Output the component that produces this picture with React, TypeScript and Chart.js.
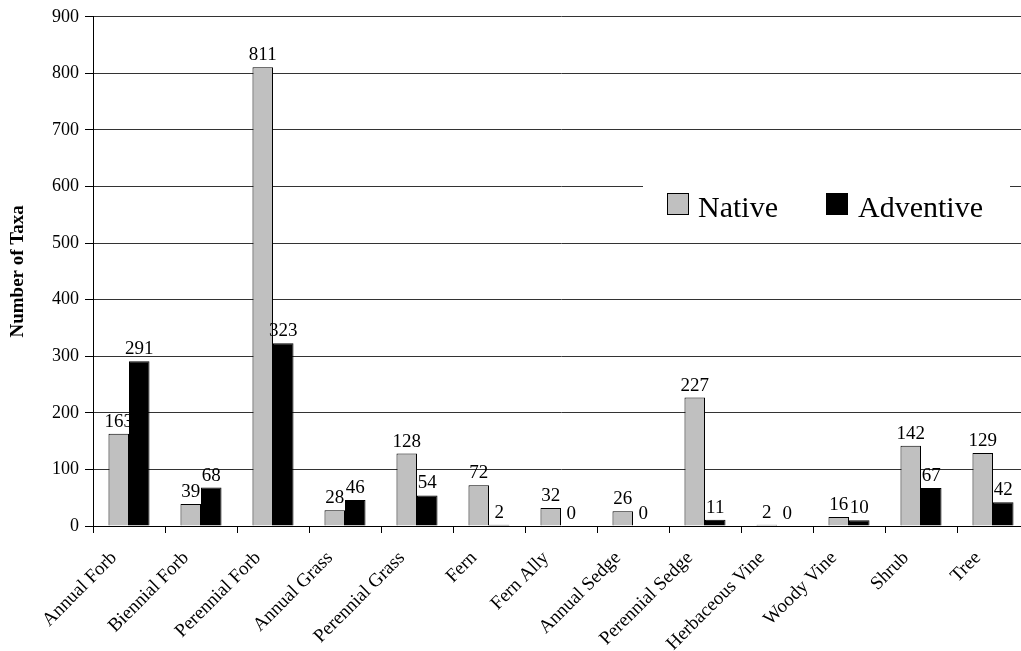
import React, { useEffect, useRef } from "react";
import { Chart, registerables } from "chart.js";

Chart.register(...registerables);

const categories = [
  "Annual Forb",
  "Biennial Forb",
  "Perennial Forb",
  "Annual Grass",
  "Perennial Grass",
  "Fern",
  "Fern Ally",
  "Annual Sedge",
  "Perennial Sedge",
  "Herbaceous Vine",
  "Woody Vine",
  "Shrub",
  "Tree",
];
const nativeValues = [163, 39, 811, 28, 128, 72, 32, 26, 227, 2, 16, 142, 129];
const adventiveValues = [291, 68, 323, 46, 54, 2, 0, 0, 11, 0, 10, 67, 42];
const seriesNames = ["Native", "Adventive"];
const yTicks = [0, 100, 200, 300, 400, 500, 600, 700, 800, 900];
const yTitle = "Number of Taxa";

const SERIF = "'Liberation Serif', 'Times New Roman', serif";
const GRAY = "#c0c0c0";

const dataLabelPlugin = {
  id: "dataLabels",
  afterDatasetsDraw(chart: any) {
    const ctx = chart.ctx;
    ctx.save();
    ctx.font = `19px ${SERIF}`;
    ctx.fillStyle = "#000";
    ctx.textAlign = "center";
    ctx.textBaseline = "alphabetic";
    chart.data.datasets.forEach((ds: any, di: number) => {
      const meta = chart.getDatasetMeta(di);
      meta.data.forEach((bar: any, i: number) => {
        ctx.fillText(String(ds.data[i]), bar.x, bar.y - 7);
      });
    });
    ctx.restore();
  },
};

const legendPlugin = {
  id: "boxLegend",
  beforeDatasetsDraw(chart: any) {
    const ctx = chart.ctx;
    ctx.save();
    ctx.fillStyle = "#fff";
    ctx.fillRect(643, 170, 367, 66);
    const items = [
      { sq: 667, tx: 698, fill: GRAY, label: seriesNames[0] },
      { sq: 826, tx: 858, fill: "#000", label: seriesNames[1] },
    ];
    ctx.font = `30px ${SERIF}`;
    ctx.textBaseline = "alphabetic";
    ctx.textAlign = "left";
    items.forEach((it) => {
      ctx.fillStyle = it.fill;
      ctx.fillRect(it.sq, 193, 22, 22);
      ctx.strokeStyle = "#000";
      ctx.lineWidth = 1;
      ctx.strokeRect(it.sq + 0.5, 193.5, 21, 21);
      ctx.fillStyle = "#000";
      ctx.fillText(it.label, it.tx, 217);
    });
    ctx.restore();
  },
};

export default function App() {
  const ref = useRef<HTMLCanvasElement | null>(null);

  useEffect(() => {
    if (!ref.current) return;
    const chart = new Chart(ref.current, {
      type: "bar",
      data: {
        labels: categories,
        datasets: [
          {
            label: seriesNames[0],
            data: nativeValues,
            backgroundColor: GRAY,
            borderColor: "#000",
            borderWidth: 1,
          },
          {
            label: seriesNames[1],
            data: adventiveValues,
            backgroundColor: "#000",
            borderColor: "#000",
            borderWidth: 1,
          },
        ],
      },
      options: {
        responsive: false,
        animation: false,
        devicePixelRatio: 1,
        layout: { padding: { top: 16, right: 11, left: 0, bottom: 0 } },
        datasets: {
          bar: { categoryPercentage: 0.57, barPercentage: 1 },
        },
        plugins: {
          legend: { display: false },
          tooltip: { enabled: false },
        },
        scales: {
          x: {
            offset: true,
            grid: {
              offset: true,
              drawOnChartArea: false,
              drawTicks: true,
              tickLength: 7,
              tickColor: "#000",
            },
            border: { display: true, color: "#000", width: 1 },
            ticks: {
              autoSkip: false,
              maxRotation: 45,
              minRotation: 45,
              color: "#000",
              font: { family: SERIF, size: 19 },
              padding: 14,
              labelOffset: -15,
            },
            afterFit: (scale: any) => {
              scale.height = 125;
            },
          },
          y: {
            min: 0,
            max: 900,
            afterBuildTicks: (scale: any) => {
              scale.ticks = yTicks.map((v) => ({ value: v }));
            },
            grid: {
              color: "#333",
              lineWidth: 1,
              drawTicks: true,
              tickLength: 8,
              tickColor: "#000",
            },
            border: { display: true, color: "#000", width: 1 },
            ticks: {
              color: "#000",
              font: { family: SERIF, size: 18 },
              padding: 6,
            },
            title: {
              display: true,
              text: yTitle,
              color: "#000",
              font: { family: SERIF, size: 19, weight: "bold" },
              padding: { top: 7, bottom: 0 },
            },
            afterFit: (scale: any) => {
              scale.width = 93;
            },
          },
        },
      },
      plugins: [legendPlugin, dataLabelPlugin],
    });
    return () => chart.destroy();
  }, []);

  return (
    <div
      style={{
        position: "fixed",
        left: 0,
        top: 0,
        width: 1021,
        height: 651,
        overflow: "hidden",
        background: "#fff",
      }}
    >
      <canvas ref={ref} width={1040} height={651} style={{ width: 1040, height: 651, display: "block" }} />
    </div>
  );
}
